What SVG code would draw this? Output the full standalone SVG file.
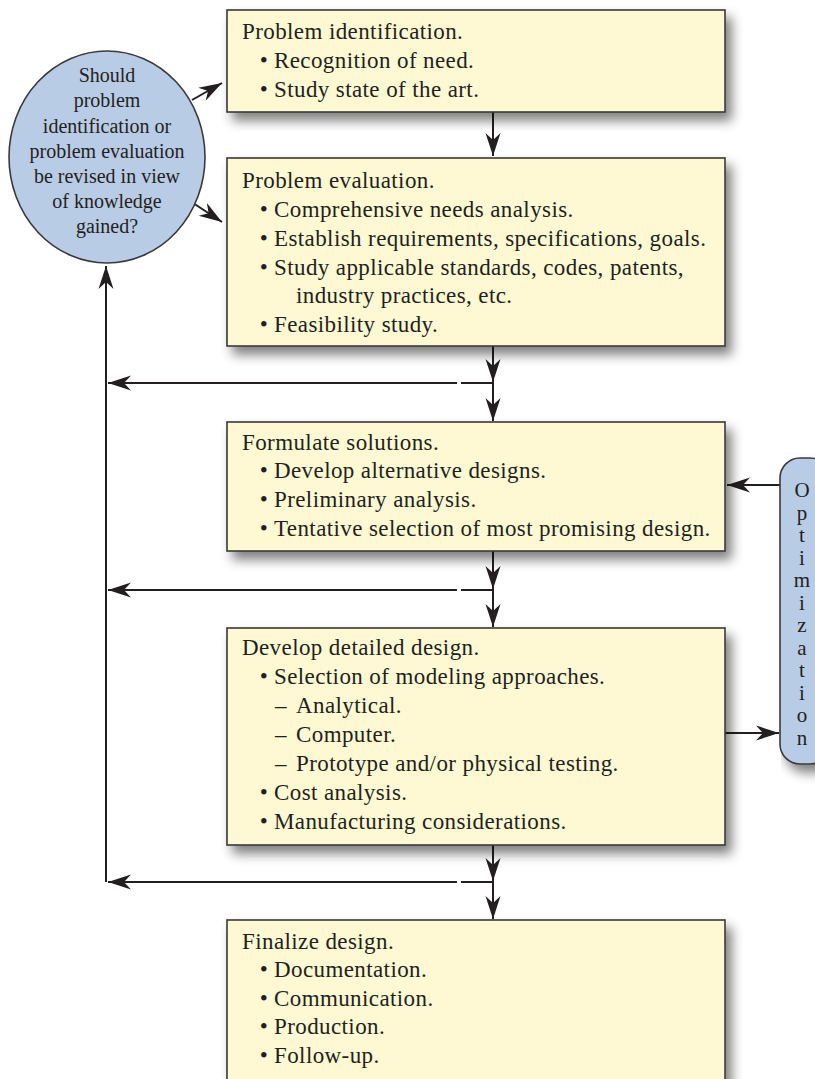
<svg xmlns="http://www.w3.org/2000/svg" width="815" height="1079" viewBox="0 0 815 1079">
<style>
.box{fill:#fef9d3;stroke:#3a3a3a;stroke-width:1.6}
.t{font-family:"Liberation Serif","Times New Roman",serif;font-size:23px;fill:#231f20;letter-spacing:0.4px}
.e{font-family:"Liberation Serif","Times New Roman",serif;font-size:20px;fill:#231f20;text-anchor:middle}
.o{font-family:"Liberation Serif","Times New Roman",serif;font-size:21px;fill:#231f20;text-anchor:middle}
.b{text-anchor:middle}
.ar{fill:none;stroke:#231f20;stroke-width:2;marker-end:url(#ah)}
</style>
<defs>
<marker id="ah" viewBox="-24 -9 26 18" refX="0" refY="0" markerWidth="26" markerHeight="18" markerUnits="userSpaceOnUse" orient="auto">
<path d="M0,0 L-23,-7.5 L-16,0 L-23,7.5 Z" fill="#231f20"/>
</marker>
<filter id="sh" x="-10%" y="-20%" width="130%" height="160%">
<feGaussianBlur in="SourceAlpha" stdDeviation="6"/>
<feOffset dx="6" dy="8" result="b"/>
<feComponentTransfer><feFuncA type="linear" slope="0.5"/></feComponentTransfer>
<feMerge><feMergeNode/><feMergeNode in="SourceGraphic"/></feMerge>
</filter>
</defs>
<rect width="815" height="1079" fill="#ffffff"/>

<g id="connectors">
<line class="ar" x1="493" y1="112" x2="493" y2="156"/>
<line class="ar" x1="493" y1="346" x2="493" y2="382"/>
<polyline class="ar" points="461,383 493,383 493,421"/>
<line class="ar" x1="457" y1="383" x2="108" y2="383"/>
<line class="ar" x1="493" y1="551" x2="493" y2="589"/>
<polyline class="ar" points="461,590 493,590 493,627"/>
<line class="ar" x1="457" y1="590" x2="108" y2="590"/>
<line class="ar" x1="493" y1="845" x2="493" y2="881"/>
<polyline class="ar" points="461,882 493,882 493,919"/>
<line class="ar" x1="457" y1="882" x2="108" y2="882"/>
<line class="ar" x1="106" y1="882" x2="106" y2="266"/>
<line class="ar" x1="192" y1="100" x2="222" y2="83"/>
<line class="ar" x1="193" y1="203" x2="222" y2="222"/>
<line class="ar" x1="780" y1="485" x2="727" y2="485"/>
<line class="ar" x1="725" y1="733" x2="779" y2="733"/>
</g>

<g id="n1">
<rect class="box" x="227" y="10" width="498" height="102" filter="url(#sh)"/>
<text class="t" x="242" y="39">Problem identification.</text>
<text class="t b" x="264" y="68">•</text><text class="t" x="274" y="68">Recognition of need.</text>
<text class="t b" x="264" y="97">•</text><text class="t" x="274" y="97">Study state of the art.</text>
</g>

<g id="n2">
<rect class="box" x="227" y="158" width="498" height="188" filter="url(#sh)"/>
<text class="t" x="242" y="188">Problem evaluation.</text>
<text class="t b" x="264" y="217">•</text><text class="t" x="274" y="217">Comprehensive needs analysis.</text>
<text class="t b" x="264" y="246">•</text><text class="t" x="274" y="246">Establish requirements, specifications, goals.</text>
<text class="t b" x="264" y="275">•</text><text class="t" x="274" y="275">Study applicable standards, codes, patents,</text>
<text class="t" x="296" y="303">industry practices, etc.</text>
<text class="t b" x="264" y="332">•</text><text class="t" x="274" y="332">Feasibility study.</text>
</g>

<g id="n3">
<rect class="box" x="227" y="422" width="498" height="129" filter="url(#sh)"/>
<text class="t" x="242" y="450">Formulate solutions.</text>
<text class="t b" x="264" y="478">•</text><text class="t" x="274" y="478">Develop alternative designs.</text>
<text class="t b" x="264" y="507">•</text><text class="t" x="274" y="507">Preliminary analysis.</text>
<text class="t b" x="264" y="536">•</text><text class="t" x="274" y="536">Tentative selection of most promising design.</text>
</g>

<g id="n4">
<rect class="box" x="227" y="628" width="498" height="217" filter="url(#sh)"/>
<text class="t" x="242" y="655">Develop detailed design.</text>
<text class="t b" x="264" y="684">•</text><text class="t" x="274" y="684">Selection of modeling approaches.</text>
<text class="t" x="275" y="713">–</text><text class="t" x="296" y="713">Analytical.</text>
<text class="t" x="275" y="742">–</text><text class="t" x="296" y="742">Computer.</text>
<text class="t" x="275" y="771">–</text><text class="t" x="296" y="771">Prototype and/or physical testing.</text>
<text class="t b" x="264" y="800">•</text><text class="t" x="274" y="800">Cost analysis.</text>
<text class="t b" x="264" y="829">•</text><text class="t" x="274" y="829">Manufacturing considerations.</text>
</g>

<g id="n5">
<rect class="box" x="227" y="920" width="498" height="175" filter="url(#sh)"/>
<text class="t" x="242" y="949">Finalize design.</text>
<text class="t b" x="264" y="977">•</text><text class="t" x="274" y="977">Documentation.</text>
<text class="t b" x="264" y="1006">•</text><text class="t" x="274" y="1006">Communication.</text>
<text class="t b" x="264" y="1034">•</text><text class="t" x="274" y="1034">Production.</text>
<text class="t b" x="264" y="1063">•</text><text class="t" x="274" y="1063">Follow-up.</text>
</g>

<g id="decision">
<ellipse cx="107" cy="157" rx="98" ry="106" fill="#b9cce6" stroke="#3a3a3a" stroke-width="1.6"/>
<text class="e" x="107" y="82">Should</text>
<text class="e" x="107" y="107">problem</text>
<text class="e" x="107" y="133">identification or</text>
<text class="e" x="107" y="158">problem evaluation</text>
<text class="e" x="107" y="183">be revised in view</text>
<text class="e" x="107" y="208">of knowledge</text>
<text class="e" x="107" y="233">gained?</text>
</g>

<g id="optimization">
<rect x="780" y="458" width="50" height="306" rx="20" ry="20" fill="#b9cce6" stroke="#3a3a3a" stroke-width="1.6" filter="url(#sh)"/>
<text class="o" x="802" y="497"><tspan x="802">O</tspan><tspan x="802" dy="22.5">p</tspan><tspan x="802" dy="22.5">t</tspan><tspan x="802" dy="22.5">i</tspan><tspan x="802" dy="22.5">m</tspan><tspan x="802" dy="22.5">i</tspan><tspan x="802" dy="22.5">z</tspan><tspan x="802" dy="22.5">a</tspan><tspan x="802" dy="22.5">t</tspan><tspan x="802" dy="22.5">i</tspan><tspan x="802" dy="22.5">o</tspan><tspan x="802" dy="22.5">n</tspan></text>
</g>
</svg>
